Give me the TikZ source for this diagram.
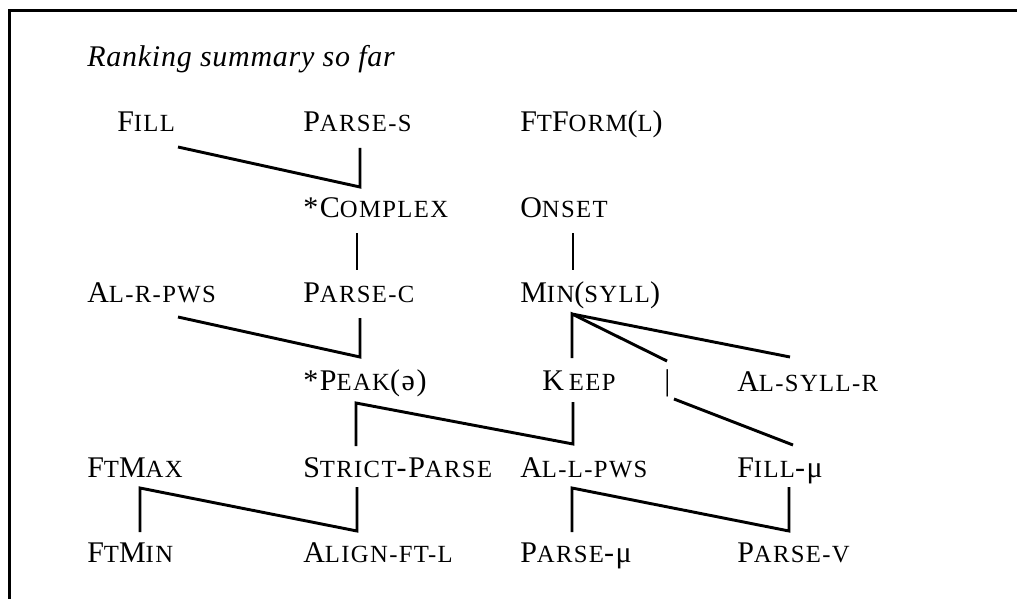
\documentclass[tikz,border=0pt]{standalone}
\usepackage{fontspec}
\setmainfont{Liberation Serif}
\newfontfamily\labelfont{Liberation Serif}[LetterSpace=5.5]
\newfontfamily\titlefont{Liberation Serif}[LetterSpace=2.5]
\newcommand\smc[1]{{\fontsize{18.5pt}{18.5pt}\selectfont #1}}
\begin{document}
\begin{tikzpicture}[x=0.75pt,y=-0.75pt,
  lbl/.style={anchor=base west,inner sep=0pt,font=\labelfont\fontsize{22.5pt}{27pt}\selectfont},
  conn/.style={line width=2.2pt,line join=miter},
  frame/.style={line width=2.8pt}]
\useasboundingbox (0,0) rectangle (1017,599);
% frame
\coordinate (fTR) at (1017,10.5);
\coordinate (fTL) at (9.5,10.5);
\coordinate (fBL) at (9.5,599);
\draw[frame] (fTR) -- (fTL) -- (fBL);
% title
\node[lbl,font=\titlefont\fontsize{22.5pt}{27pt}\selectfont\itshape] (title) at (87,67) {Ranking summary so far};
% row 1
\node[lbl] (fill) at (117,132) {F\smc{ILL}};
\node[lbl] (parses) at (303,132) {P\smc{ARSE-S}};
\node[lbl] (ftform) at (520,132) {F\smc{T}F\smc{ORM}(\smc{L})};
% row 2
\node[lbl] (complex) at (303,217) {*C\smc{OMPLEX}};
\node[lbl] (onset) at (520,217) {O\smc{NSET}};
% row 3
\node[lbl] (alr) at (87,302) {A\smc{L-R-PWS}};
\node[lbl] (parsec) at (303,302) {P\smc{ARSE-C}};
\node[lbl] (min) at (520,302) {M\smc{IN}(\smc{SYLL})};
% row 4
\node[lbl] (peak) at (303,390) {*P\smc{EAK}(ə)};
\node[lbl] (keep) at (542,390) {K\,\smc{EEP}};
\node[lbl] (bar) at (664,390) {|};
\node[lbl] (alsyll) at (737,391) {A\smc{L-SYLL-R}};
% row 5
\node[lbl] (ftmax) at (87,477) {F\smc{T}M\smc{AX}};
\node[lbl] (strict) at (303,477) {S\smc{TRICT}-P\smc{ARSE}};
\node[lbl] (allpws) at (520,477) {A\smc{L-L-PWS}};
\node[lbl] (fillmu) at (737,477) {F\smc{ILL}-μ};
% row 6
\node[lbl] (ftmin) at (87,562) {F\smc{T}M\smc{IN}};
\node[lbl] (align) at (303,562) {A\smc{LIGN-FT-L}};
\node[lbl] (parsemu) at (520,562) {P\smc{ARSE}-μ};
\node[lbl] (parsev) at (737,562) {P\smc{ARSE-V}};
% connector end points
\coordinate (fillB) at (178,147);
\coordinate (cplxT) at (360,187);
\coordinate (parsesB) at (360,148);
\coordinate (cplxB) at (357,233);
\coordinate (parsecT) at (357,270);
\coordinate (onsetB) at (573,233);
\coordinate (minT) at (573,270);
\coordinate (alrB) at (178,317);
\coordinate (peakT) at (360,357);
\coordinate (parsecB) at (360,318);
\coordinate (minB) at (572,314);
\coordinate (keepT) at (572,358);
\coordinate (barT) at (667,361);
\coordinate (alsyllT) at (790,357);
\coordinate (barB) at (674,399);
\coordinate (fillmuT) at (793,445);
\coordinate (strictT) at (356,446);
\coordinate (peakB) at (356,403);
\coordinate (allpwsT) at (573,444);
\coordinate (keepB) at (573,402);
\coordinate (ftminT) at (140,532);
\coordinate (ftmaxB) at (140,488);
\coordinate (alignT) at (357,531);
\coordinate (strictB) at (357,487);
\coordinate (parsemuT) at (572,532);
\coordinate (allpwsB) at (572,488);
\coordinate (parsevT) at (789,531);
\coordinate (fillmuB) at (789,487);
% connectors
\draw[conn] (fillB) -- (cplxT) -- (parsesB);
\draw[conn] (cplxB) -- (parsecT);
\draw[conn] (onsetB) -- (minT);
\draw[conn] (alrB) -- (peakT) -- (parsecB);
\draw[conn] (keepT) -- (minB) -- (barT);
\draw[conn] (minB) -- (alsyllT);
\draw[conn] (barB) -- (fillmuT);
\draw[conn] (strictT) -- (peakB) -- (allpwsT) -- (keepB);
\draw[conn] (ftminT) -- (ftmaxB) -- (alignT) -- (strictB);
\draw[conn] (parsemuT) -- (allpwsB) -- (parsevT) -- (fillmuB);
\end{tikzpicture}
\end{document}
